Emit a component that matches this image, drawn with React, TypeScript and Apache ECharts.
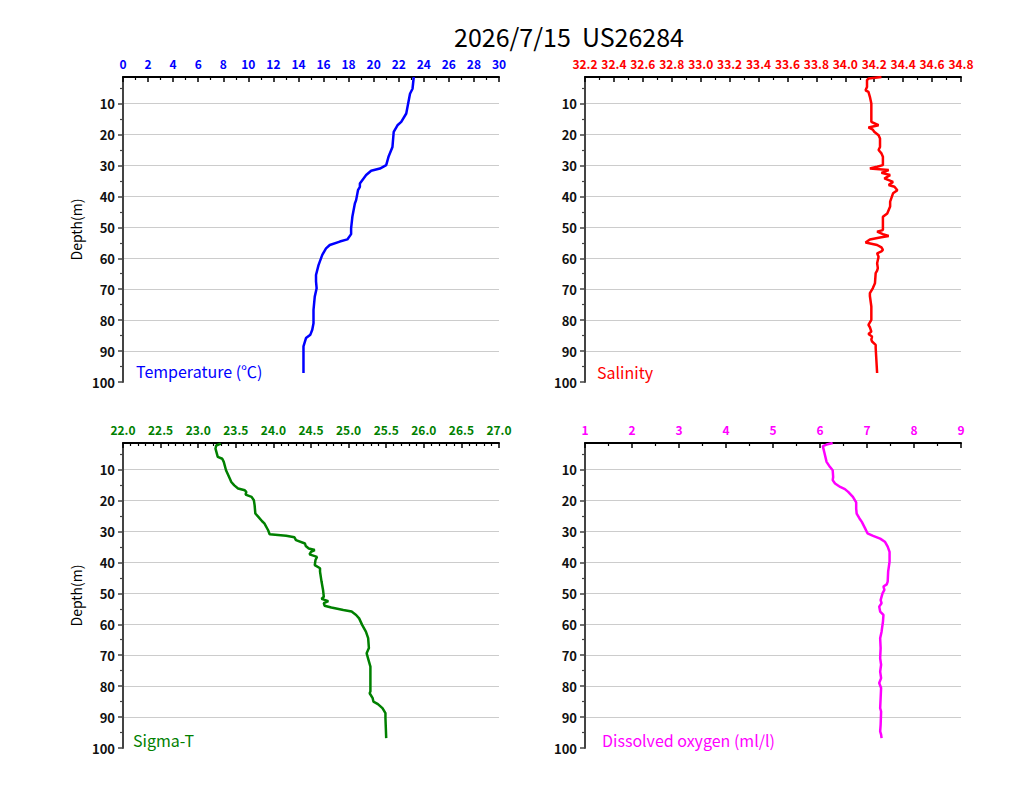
import React, { useEffect, useRef } from "react";
import * as echarts from "echarts";

const TITLE = "2026/7/15  US26284";
const DEPTH_MIN = 1.4;
const DEPTH_MAX = 100;
const depthMajor = [10, 20, 30, 40, 50, 60, 70, 80, 90, 100];
const depthMinor = [5, 15, 25, 35, 45, 55, 65, 75, 85, 95];
const depthGrid = [10, 20, 30, 40, 50, 60, 70, 80, 90];

// Temperature (°C)
const tempDepth = [1.4, 5.2, 6.8, 13.2, 15.9, 17, 19.1, 24, 27, 29.9, 31, 31.7, 33.1, 35.8, 36.9, 38, 41.2, 42.3, 46.6, 50.3, 52.2, 53.9, 54.6, 55.7, 56.8, 58.9, 62.2, 65.4, 67.5, 69.7, 72.4, 76.7, 81, 83.1, 84.7, 85.8, 88.5, 90.6, 97.1];
const tempValue = [23.2, 23.1, 22.9, 22.6, 22.2, 21.9, 21.6, 21.5, 21.2, 21.0, 20.5, 19.8, 19.4, 18.9, 18.9, 18.75, 18.6, 18.5, 18.3, 18.2, 18.2, 17.9, 17.3, 16.5, 16.2, 15.9, 15.6, 15.4, 15.4, 15.45, 15.3, 15.2, 15.2, 15.1, 14.95, 14.6, 14.4, 14.4, 14.4];

// Salinity
const salDepth = [1.4, 1.9, 2.4, 4.6, 5.7, 6.2, 7.8, 10, 14.3, 15.9, 17, 17.7, 18.4, 19.1, 20.2, 21.3, 24, 25, 26.1, 27.2, 29.9, 30.4, 31, 31.5, 32.4, 33.1, 34.2, 35.3, 36.3, 36.9, 38, 39, 41.7, 43.3, 45.5, 46.6, 50.3, 50.9, 51.4, 52.2, 52.8, 53.3, 53.9, 54.9, 55.7, 56.5, 57.3, 57.8, 58.4, 59.5, 61.6, 63.2, 64, 64.8, 68.1, 69.7, 71.3, 72.2, 75.6, 79.9, 81.5, 82.3, 83.7, 84.5, 85.3, 86.3, 86.9, 88, 89, 97.1];
const salValue = [34.25, 34.16, 34.15, 34.15, 34.14, 34.16, 34.17, 34.18, 34.18, 34.18, 34.23, 34.16, 34.19, 34.2, 34.23, 34.24, 34.24, 34.23, 34.25, 34.26, 34.26, 34.22, 34.17, 34.3, 34.25, 34.31, 34.27, 34.33, 34.3, 34.34, 34.36, 34.33, 34.31, 34.31, 34.29, 34.26, 34.26, 34.26, 34.22, 34.26, 34.3, 34.24, 34.17, 34.14, 34.22, 34.25, 34.26, 34.25, 34.22, 34.23, 34.22, 34.225, 34.22, 34.21, 34.205, 34.19, 34.17, 34.17, 34.18, 34.18, 34.16, 34.17, 34.18, 34.16, 34.185, 34.18, 34.185, 34.21, 34.21, 34.22];

// Sigma-T
const sigDepth = [1.6, 2.2, 3.2, 5.9, 6.5, 7.5, 10.2, 12.9, 14, 15.1, 16.1, 16.7, 17.2, 18.1, 18.8, 19.9, 21.5, 24.2, 25.3, 26.7, 27.4, 29.6, 30.9, 31.4, 31.9, 32.8, 33.9, 34.7, 35.5, 36, 36.6, 37.4, 38.2, 39.2, 40.9, 41.9, 43, 46.2, 48.9, 51.1, 51.8, 52.5, 53.2, 54, 54.6, 55.4, 55.9, 57, 58.1, 60.2, 62.4, 64.5, 67.7, 69.4, 72, 73.7, 77.4, 81.7, 82.3, 83.9, 85, 85.8, 87.1, 88.7, 90.3, 96.8];
const sigValue = [23.3, 23.24, 23.23, 23.26, 23.32, 23.34, 23.37, 23.42, 23.44, 23.48, 23.53, 23.62, 23.64, 23.63, 23.71, 23.74, 23.75, 23.76, 23.8, 23.85, 23.88, 23.93, 23.95, 24.17, 24.28, 24.3, 24.42, 24.43, 24.47, 24.55, 24.5, 24.48, 24.58, 24.56, 24.55, 24.62, 24.62, 24.64, 24.66, 24.67, 24.64, 24.73, 24.67, 24.68, 24.77, 24.93, 25.04, 25.1, 25.14, 25.18, 25.23, 25.26, 25.27, 25.24, 25.27, 25.29, 25.29, 25.29, 25.28, 25.32, 25.33, 25.39, 25.45, 25.49, 25.49, 25.5];

// Dissolved oxygen (ml/l)
const doDepth = [1.4, 1.9, 2.4, 4.3, 7.5, 9.1, 10.2, 12.4, 13.4, 14.5, 15.6, 16.3, 17.2, 18.8, 20.6, 22.6, 24.2, 25.8, 26.9, 29, 30.6, 31.4, 32.3, 33.3, 34.9, 36.6, 39.8, 43, 46.2, 47.1, 47.8, 48.9, 50, 52.2, 53.2, 54.3, 55.9, 57, 59.1, 62.4, 64.5, 67.7, 71, 73.1, 75.3, 77.4, 79, 80.6, 83.9, 87.1, 88.2, 92.5, 94.6, 95.7, 96.8];
const doValue = [6.27, 6.14, 6.06, 6.09, 6.14, 6.21, 6.27, 6.28, 6.27, 6.32, 6.43, 6.53, 6.6, 6.7, 6.77, 6.77, 6.78, 6.84, 6.89, 6.96, 7.01, 7.13, 7.28, 7.38, 7.44, 7.48, 7.48, 7.45, 7.44, 7.42, 7.35, 7.37, 7.33, 7.29, 7.31, 7.26, 7.28, 7.35, 7.34, 7.31, 7.28, 7.29, 7.28, 7.3, 7.28, 7.3, 7.26, 7.3, 7.29, 7.28, 7.3, 7.29, 7.28, 7.3, 7.31];

const panelNames = ["Temperature (\u2103)", "Salinity", "Sigma-T", "Dissolved oxygen (ml/l)"];
const panelColors = ["#0000ff", "#ff0000", "#008000", "#ff00ff"];
const xMins = [0, 32.2, 22, 1];
const xMaxs = [30, 34.8, 27, 9];
const xIntervals = [2, 0.2, 0.5, 1];
const xMinorSplits = [2, 2, 5, 2];
const xDecimals = [0, 1, 1, 0];

const FONT = "'Noto Sans CJK JP', 'Noto Sans', sans-serif";

const grids = [
  { left: 123, top: 77, width: 376, height: 305 },
  { left: 585, top: 77, width: 376, height: 305 },
  { left: 123, top: 443, width: 376, height: 305 },
  { left: 585, top: 443, width: 376, height: 305 },
];

function pairs(vals: number[], depths: number[]) {
  return vals.map((v, i) => [v, depths[i]]);
}

export default function App() {
  const ref = useRef<HTMLDivElement>(null);
  useEffect(() => {
    document.body.style.margin = "0";
    const chart = echarts.init(ref.current!, null, { renderer: "svg" });
    const seriesData = [
      pairs(tempValue, tempDepth),
      pairs(salValue, salDepth),
      pairs(sigValue, sigDepth),
      pairs(doValue, doDepth),
    ];
    const xAxis: any[] = [];
    const yAxis: any[] = [];
    const series: any[] = [];
    grids.forEach((g, i) => {
      xAxis.push({
        gridIndex: i,
        type: "value",
        position: "top",
        min: xMins[i],
        max: xMaxs[i],
        interval: xIntervals[i],
        axisLine: { show: true, onZero: false, lineStyle: { color: "#000", width: 2 } },
        axisTick: { show: true, inside: true, length: 5, lineStyle: { color: "#000", width: 1.5 } },
        minorTick: { show: true, splitNumber: xMinorSplits[i], length: 3, lineStyle: { color: "#000", width: 1.2 } },
        splitLine: { show: false },
        axisLabel: {
          color: panelColors[i],
          fontSize: 12,
          fontFamily: FONT,
          fontWeight: "bold",
          margin: 8,
          formatter: (v: number) => v.toFixed(xDecimals[i]),
        },
      });
      const yBase = i * 3;
      yAxis.push({
        gridIndex: i,
        type: "value",
        position: "left",
        inverse: true,
        min: DEPTH_MIN,
        max: DEPTH_MAX,
        name: i % 2 === 0 ? "Depth(m)" : "",
        nameLocation: "middle",
        nameGap: 40,
        nameRotate: 90,
        nameTextStyle: { color: "#000", fontSize: 14, fontFamily: FONT },
        axisLine: { show: true, onZero: false, lineStyle: { color: "#444", width: 2 } },
        axisTick: { show: true, customValues: depthMajor, length: 5, lineStyle: { color: "#444", width: 1.5 } },
        axisLabel: { show: true, customValues: depthMajor, color: "#111", fontSize: 13, fontFamily: FONT, fontWeight: "bold", margin: 8 },
        splitLine: { show: false },
      });
      yAxis.push({
        gridIndex: i,
        type: "value",
        position: "left",
        inverse: true,
        min: DEPTH_MIN,
        max: DEPTH_MAX,
        axisLine: { show: false },
        axisTick: { show: true, customValues: depthMinor, length: 3, lineStyle: { color: "#444", width: 1.2 } },
        axisLabel: { show: false },
        splitLine: { show: false },
      });
      yAxis.push({
        gridIndex: i,
        type: "value",
        position: "left",
        inverse: true,
        min: DEPTH_MIN,
        max: DEPTH_MAX,
        axisLine: { show: false },
        axisTick: { show: false, customValues: depthGrid },
        axisLabel: { show: false },
        splitLine: { show: true, lineStyle: { color: "#cccccc", width: 1 } },
      });
      series.push({
        type: "line",
        xAxisIndex: i,
        yAxisIndex: yBase,
        data: seriesData[i],
        showSymbol: false,
        symbol: "none",
        lineStyle: { color: panelColors[i], width: 2.5 },
        z: 5,
      });
    });
    const graphic: any[] = [
      {
        type: "text",
        x: 569,
        y: 36,
        style: { text: TITLE, fontSize: 25, fontFamily: FONT, fill: "#000", align: "center", verticalAlign: "middle" },
      },
      { type: "text", x: 136, y: 371, style: { text: panelNames[0], fontSize: 16, fontFamily: FONT, fill: panelColors[0], verticalAlign: "middle" } },
      { type: "text", x: 597, y: 372, style: { text: panelNames[1], fontSize: 16, fontFamily: FONT, fill: panelColors[1], verticalAlign: "middle" } },
      { type: "text", x: 133, y: 740, style: { text: panelNames[2], fontSize: 16, fontFamily: FONT, fill: panelColors[2], verticalAlign: "middle" } },
      { type: "text", x: 602, y: 740, style: { text: panelNames[3], fontSize: 16, fontFamily: FONT, fill: panelColors[3], verticalAlign: "middle" } },
    ];
    chart.setOption({
      animation: false,
      backgroundColor: "#ffffff",
      grid: grids,
      xAxis,
      yAxis,
      series,
      graphic,
    });
    return () => chart.dispose();
  }, []);
  return <div ref={ref} style={{ width: 1024, height: 793 }} />;
}
